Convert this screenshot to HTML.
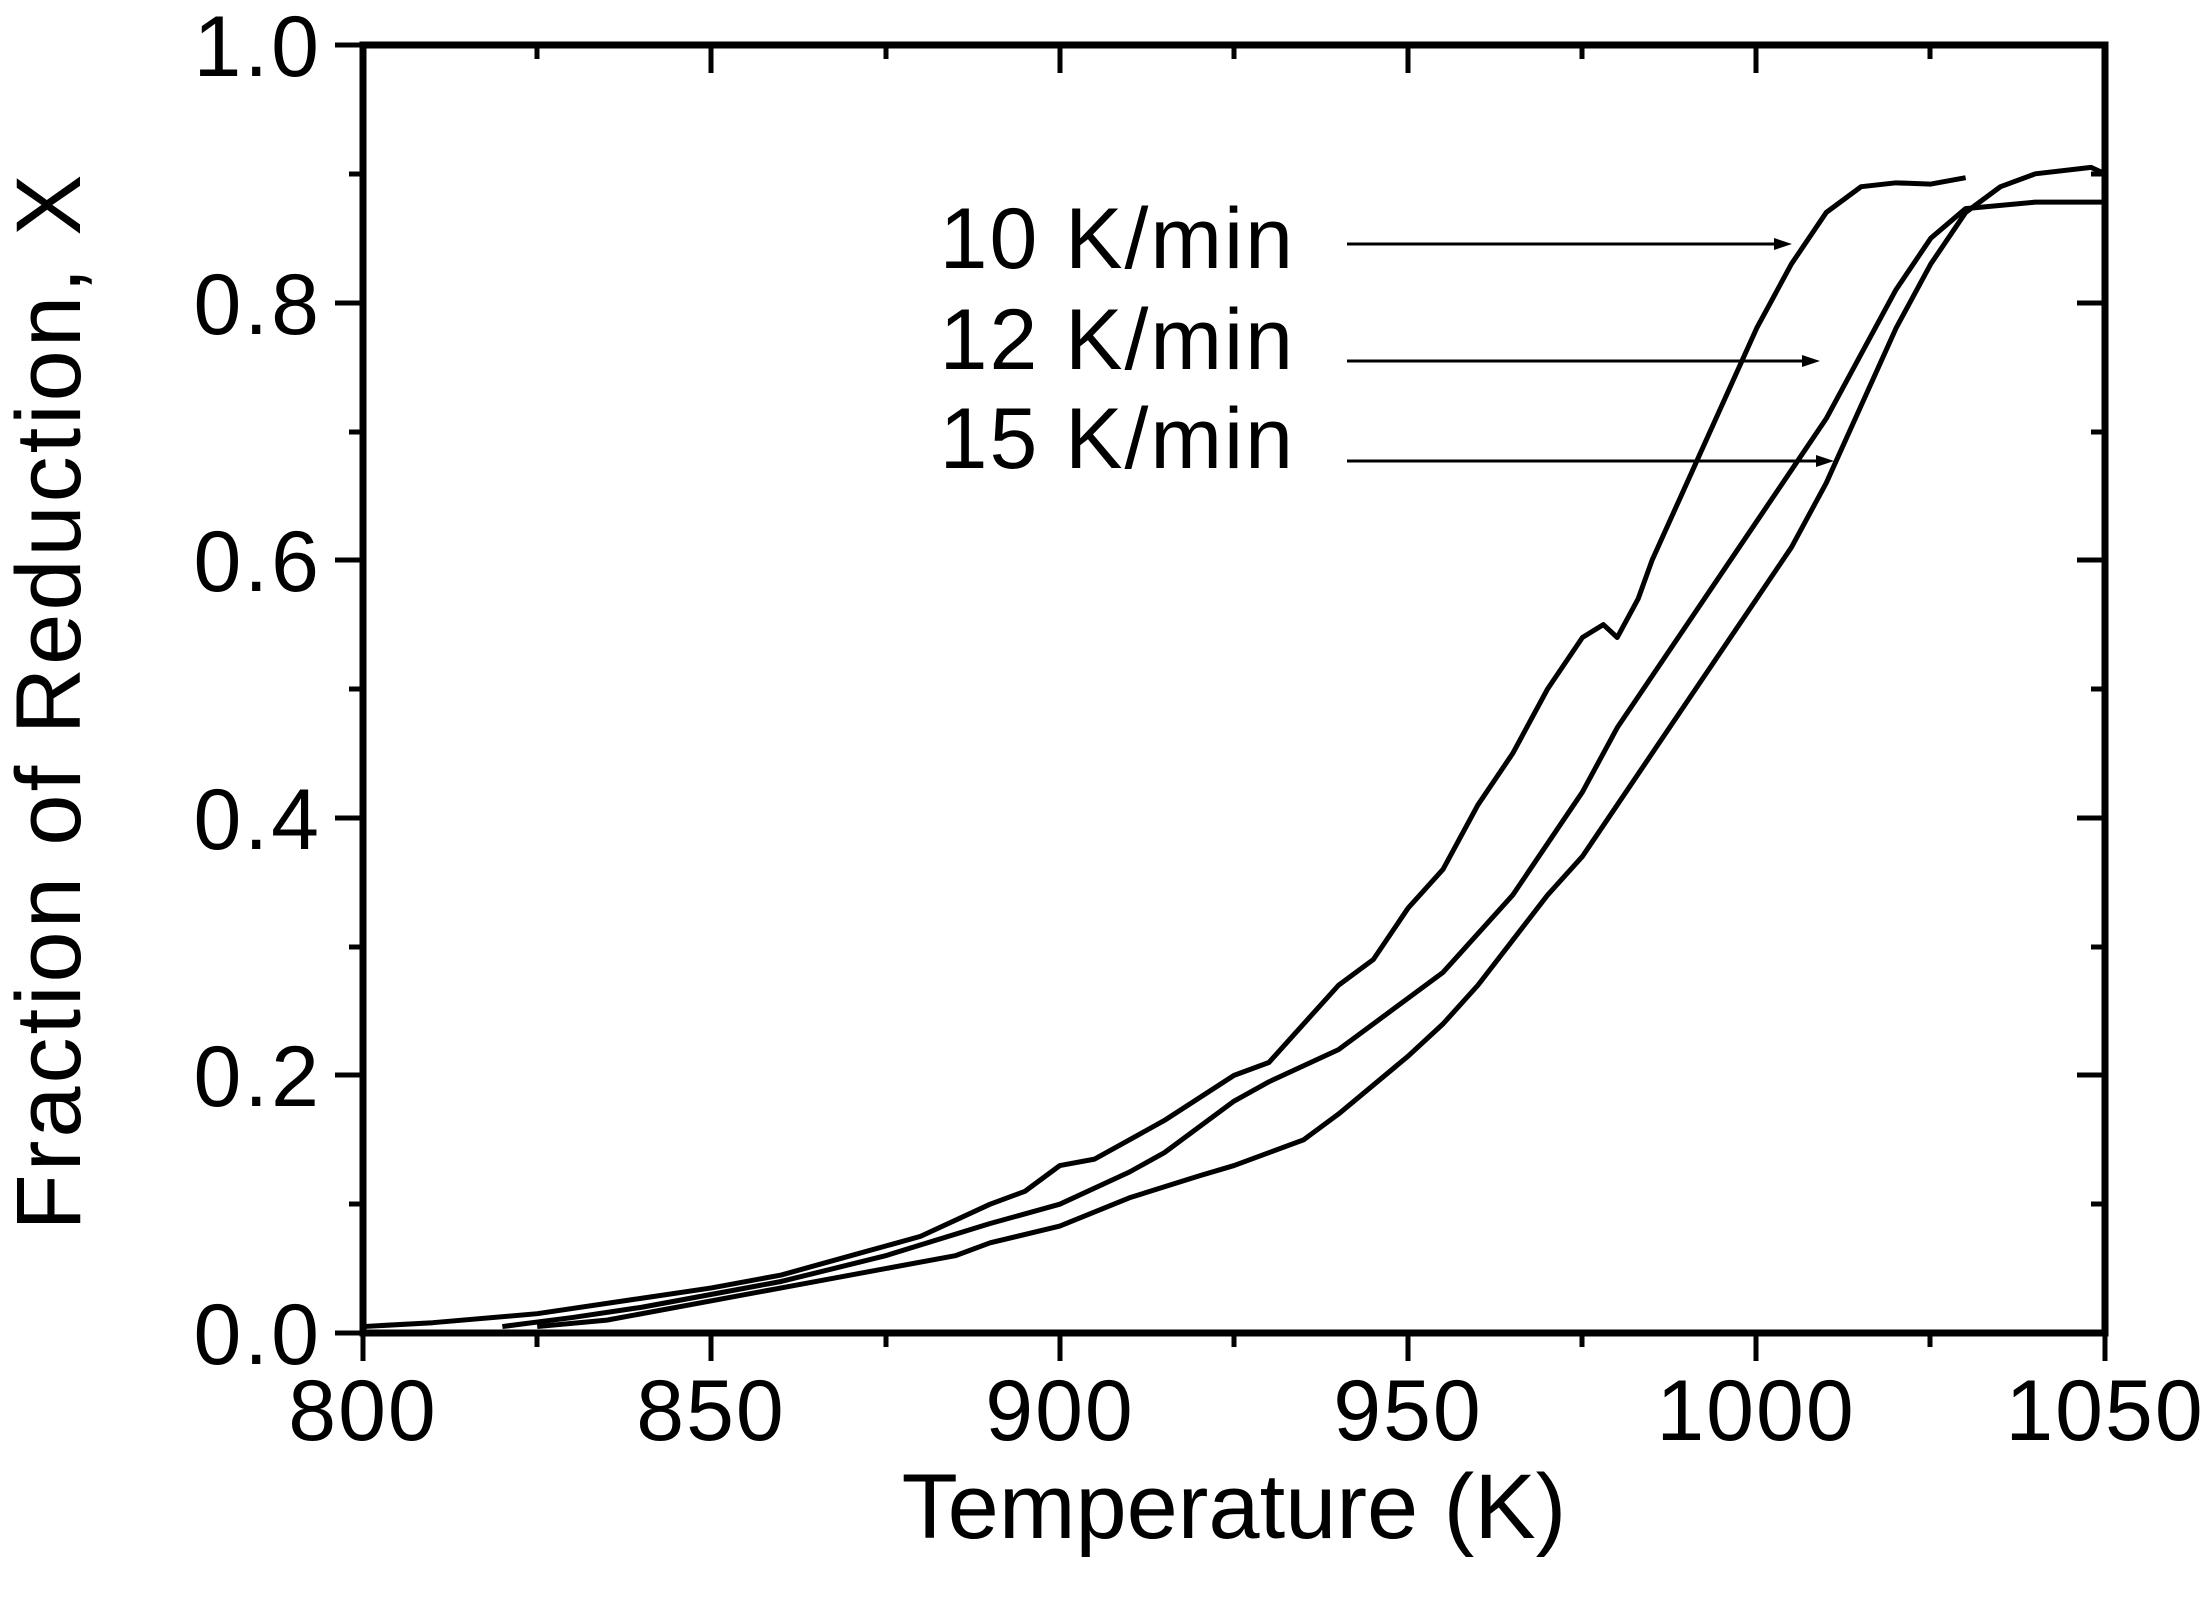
<!DOCTYPE html>
<html><head><meta charset="utf-8"><style>html,body{margin:0;padding:0;background:#fff}</style></head>
<body>
<svg width="2211" height="1598" viewBox="0 0 2211 1598" xmlns="http://www.w3.org/2000/svg" font-family="Liberation Sans, Arial, sans-serif">
<rect width="2211" height="1598" fill="#fff"/>
<g stroke="#000" stroke-width="5">
<path d="M363 1333v28M711 1333v28M1060 1333v28M1408 1333v28M1756 1333v28M2105 1333v28
M537 1333v14M886 1333v14M1234 1333v14M1582 1333v14M1930 1333v14"/>
<path d="M711 45v28M1060 45v28M1408 45v28M1756 45v28
M537 45v14M886 45v14M1234 45v14M1582 45v14M1930 45v14"/>
<path d="M363 1333h-28M363 1075h-28M363 818h-28M363 560h-28M363 303h-28M363 45h-28
M363 1204h-14M363 947h-14M363 689h-14M363 432h-14M363 174h-14"/>
<path d="M2105 1075h-28M2105 818h-28M2105 560h-28M2105 303h-28
M2105 1204h-14M2105 947h-14M2105 689h-14M2105 432h-14M2105 174h-14"/>
</g>
<rect x="363" y="45" width="1742" height="1288" fill="none" stroke="#000" stroke-width="7"/>
<g transform="translate(363,1333) scale(6.968,-1288)" fill="none" stroke="#000" stroke-width="5" stroke-linejoin="round">
<polyline vector-effect="non-scaling-stroke" points="0,0.005 10,0.008 25,0.015 40,0.027 50,0.035 60,0.045 70,0.06 80,0.075 90,0.1 95,0.11 100,0.13 105,0.135 110,0.15 115,0.165 125,0.2 130,0.21 140,0.27 145,0.29 150,0.33 155,0.36 160,0.41 165,0.45 170,0.50 175,0.54 178,0.55 180,0.54 183,0.57 185,0.60 190,0.66 195,0.72 200,0.78 205,0.83 210,0.87 215,0.89 220,0.893 225,0.892 230,0.897"/>
<polyline vector-effect="non-scaling-stroke" points="20,0.005 30,0.012 40,0.02 50,0.03 60,0.04 75,0.06 90,0.085 100,0.1 110,0.125 115,0.14 125,0.18 130,0.195 140,0.22 145,0.24 150,0.26 155,0.28 160,0.31 165,0.34 170,0.38 175,0.42 180,0.47 185,0.51 190,0.55 195,0.59 200,0.63 205,0.67 210,0.71 215,0.76 220,0.81 225,0.85 230,0.873 240,0.878 250,0.878"/>
<polyline vector-effect="non-scaling-stroke" points="25,0.005 35,0.01 50,0.025 60,0.035 75,0.05 85,0.06 90,0.07 100,0.083 110,0.105 120,0.122 125,0.13 135,0.15 140,0.17 150,0.215 155,0.24 160,0.27 165,0.305 170,0.34 175,0.37 180,0.41 185,0.45 190,0.49 195,0.53 200,0.57 205,0.61 210,0.66 215,0.72 220,0.78 225,0.83 230,0.87 235,0.89 240,0.9 248,0.905 250,0.9"/>
</g>
<g font-size="86" fill="#000">
<g text-anchor="end" letter-spacing="3">
<text x="322" y="1364">0.0</text><text x="322" y="1106">0.2</text><text x="322" y="849">0.4</text>
<text x="322" y="591">0.6</text><text x="322" y="334">0.8</text><text x="322" y="76">1.0</text>
</g>
<g text-anchor="middle" letter-spacing="2">
<text x="363" y="1440">800</text><text x="711" y="1440">850</text><text x="1060" y="1440">900</text>
<text x="1408" y="1440">950</text><text x="1756" y="1440">1000</text><text x="2105" y="1440">1050</text>
</g>
</g>
<text x="1234" y="1538" font-size="92" text-anchor="middle">Temperature (K)</text>
<text transform="translate(80,701) rotate(-90)" font-size="92" letter-spacing="3" text-anchor="middle">Fraction of Reduction, X</text>
<g font-size="86" text-anchor="end" letter-spacing="2">
<text x="1295" y="268">10 K/min</text>
<text x="1295" y="369">12 K/min</text>
<text x="1295" y="468">15 K/min</text>
</g>
<g stroke="#000" stroke-width="3">
<line x1="1347" y1="244" x2="1775" y2="244"/>
<line x1="1347" y1="361" x2="1803" y2="361"/>
<line x1="1347" y1="461" x2="1817" y2="461"/>
</g>
<g fill="#000">
<path d="M1792 244l-18 -6v12z"/>
<path d="M1820 361l-18 -6v12z"/>
<path d="M1834 461l-18 -6v12z"/>
</g>
</svg>
</body></html>
